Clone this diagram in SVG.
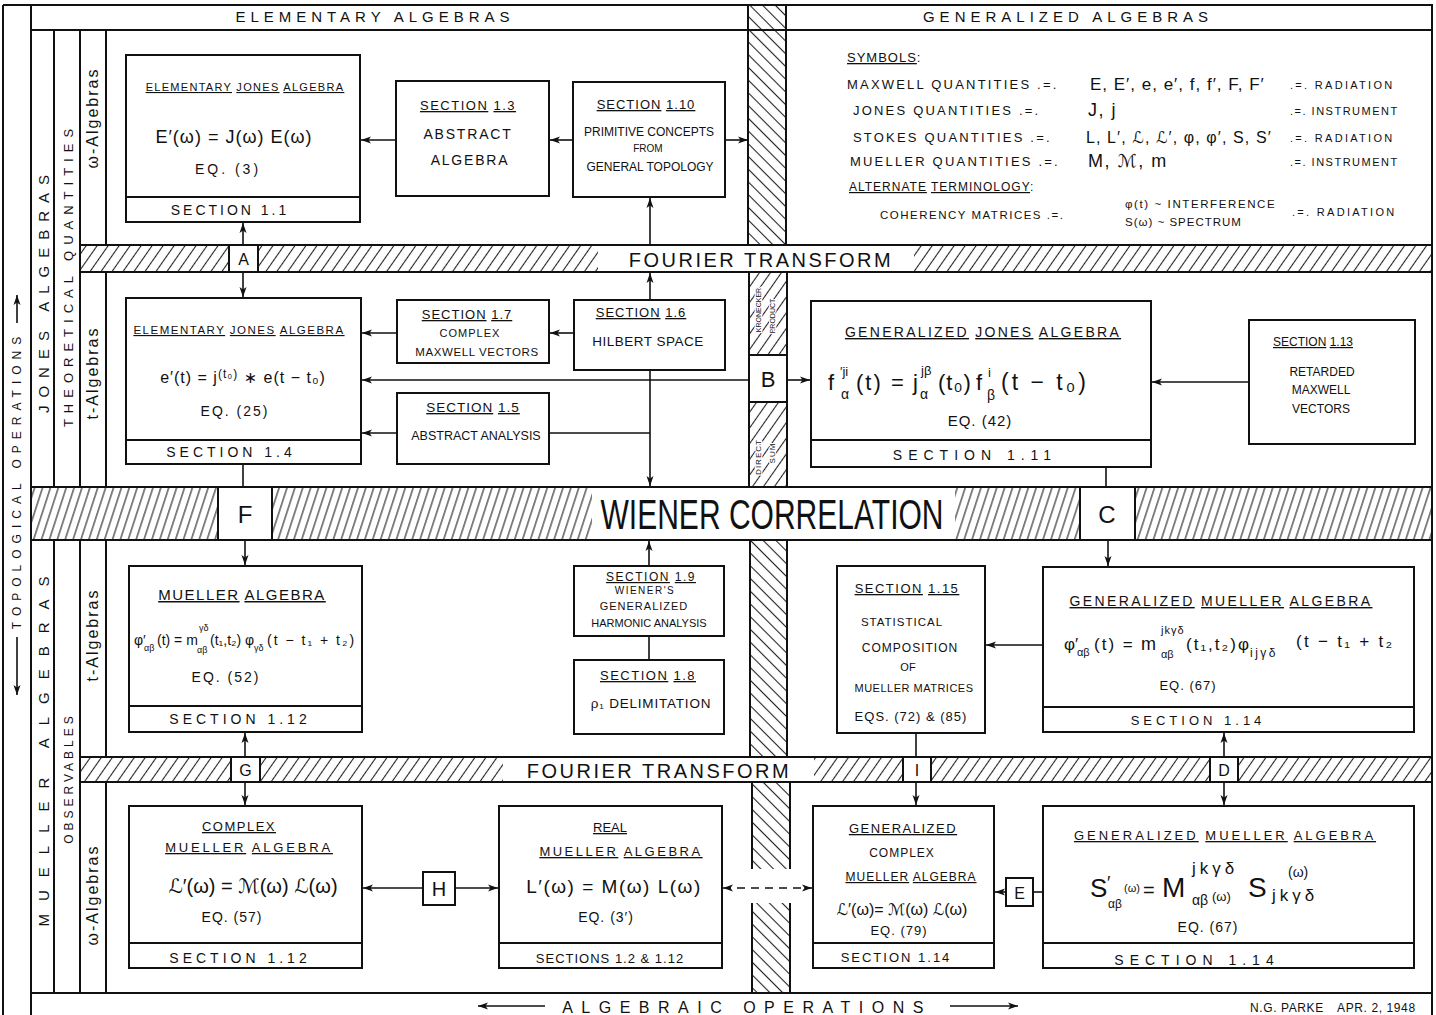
<svg xmlns="http://www.w3.org/2000/svg" width="1436" height="1015" viewBox="0 0 1436 1015">
<defs>
<style>
.bx{fill:#fff;stroke:#111;stroke-width:2}
.fr{fill:none;stroke:#111;stroke-width:2}
.ln{fill:none;stroke:#111;stroke-width:1.6}
.t{font-family:"Liberation Sans","DejaVu Sans",sans-serif;fill:#111;text-anchor:middle}
.s{text-anchor:start}
.u{text-decoration:underline}
.h{stroke:#fff;stroke-width:2.5;paint-order:stroke}
</style>
<pattern id="hF" patternUnits="userSpaceOnUse" width="9" height="10" patternTransform="rotate(35)"><line x1="4.5" y1="-1" x2="4.5" y2="11" stroke="#222" stroke-width="1.1"/></pattern>
<pattern id="hW" patternUnits="userSpaceOnUse" width="7.5" height="10" patternTransform="rotate(18)"><line x1="3.7" y1="-1" x2="3.7" y2="11" stroke="#222" stroke-width="1.1"/></pattern>
<pattern id="hV" patternUnits="userSpaceOnUse" width="9" height="10" patternTransform="rotate(-45)"><line x1="4.5" y1="-1" x2="4.5" y2="11" stroke="#222" stroke-width="1.1"/></pattern>
<marker id="ah" viewBox="0 0 10 8" refX="10" refY="4" markerWidth="10" markerHeight="8" markerUnits="userSpaceOnUse" orient="auto-start-reverse"><path d="M0,0.5 L10,4 L0,7.5 L2.5,4 z" fill="#111"/></marker>
</defs>
<rect width="1436" height="1015" fill="#fff"/>

<g id="bands">
<rect x="748" y="5" width="38" height="240" fill="url(#hV)"/>
<rect x="749" y="272" width="38" height="215" fill="url(#hF)"/>
<rect x="750" y="540" width="37" height="217" fill="url(#hV)"/>
<rect x="752" y="782" width="38" height="87" fill="url(#hV)"/>
<rect x="752" y="903" width="38" height="90" fill="url(#hV)"/>
<rect x="80" y="245" width="1352" height="27" fill="url(#hF)"/>
<rect x="598" y="246" width="316" height="25" fill="#fff"/>
<rect x="32" y="487" width="1400" height="53" fill="url(#hW)"/>
<rect x="592" y="488" width="363" height="51" fill="#fff"/>
<rect x="80" y="757" width="1352" height="25" fill="url(#hF)"/>
<rect x="503" y="758" width="311" height="23" fill="#fff"/>
</g>

<g id="frame" class="fr">
<path d="M3,5 H1432 V1015 M3,5 V1015 M31,5 V1015 M31,30 H1432 M80,245 H1432 M80,272 H1432 M32,487 H1432 M32,540 H1432 M80,757 H1432 M80,782 H1432 M31,993 H1432"/>
<path d="M54,30 V487 M54,540 V993 M80,30 V487 M80,540 V993 M106,30 V245 M106,272 V487 M106,540 V757 M106,782 V993"/>
<path d="M748,5 V245 M786,5 V245 M749,272 V487 M787,272 V487 M750,540 V757 M787,540 V757 M752,782 V869 M790,782 V869 M752,903 V993 M790,903 V993"/>
</g>

<g id="labels">
<text class="t" x="375" y="22" font-size="15" letter-spacing="5">ELEMENTARY ALGEBRAS</text>
<text class="t" x="1068" y="22" font-size="15" letter-spacing="5">GENERALIZED ALGEBRAS</text>
<text class="t" x="761" y="267" font-size="20" letter-spacing="2.5">FOURIER TRANSFORM</text>
<text class="t" x="659" y="778" font-size="20" letter-spacing="2.5">FOURIER TRANSFORM</text>
<text class="t" x="772" y="529" font-size="42" textLength="343" lengthAdjust="spacingAndGlyphs">WIENER CORRELATION</text>
<text class="t" transform="translate(21,480) rotate(-90)" font-size="12" letter-spacing="6">TOPOLOGICAL OPERATIONS</text>
<text class="t" transform="translate(48.5,290) rotate(-90)" font-size="15" letter-spacing="8">JONES ALGEBRAS</text>
<text class="t" transform="translate(72.5,275) rotate(-90)" font-size="13" letter-spacing="6">THEORETICAL QUANTITIES</text>
<text class="t" transform="translate(98,118) rotate(-90)" font-size="16" letter-spacing="2">ω-Algebras</text>
<text class="t" transform="translate(98,373) rotate(-90)" font-size="16" letter-spacing="2">t-Algebras</text>
<text class="t" transform="translate(48.5,745) rotate(-90)" font-size="15" letter-spacing="13">MUELLER ALGEBRAS</text>
<text class="t" transform="translate(72.5,778) rotate(-90)" font-size="12" letter-spacing="4">OBSERVABLES</text>
<text class="t" transform="translate(98,635) rotate(-90)" font-size="16" letter-spacing="2">t-Algebras</text>
<text class="t" transform="translate(98,895) rotate(-90)" font-size="16" letter-spacing="2">ω-Algebras</text>
<text class="t" transform="translate(760.5,310) rotate(-90)" font-size="7"><tspan class="h">KRONECKER</tspan></text>
<text class="t" transform="translate(774.5,316) rotate(-90)" font-size="7"><tspan class="h">PRODUCT</tspan></text>
<text class="t" transform="translate(761,457) rotate(-90)" font-size="8" letter-spacing="1"><tspan class="h">DIRECT</tspan></text>
<text class="t" transform="translate(775,453) rotate(-90)" font-size="8" letter-spacing="1"><tspan class="h">SUM</tspan></text>
<text class="t" x="747" y="1013" font-size="16" letter-spacing="8.5">ALGEBRAIC OPERATIONS</text>
<text class="t s" x="1250" y="1012" font-size="12" letter-spacing="0.6">N.G. PARKE <tspan dx="10">APR. 2, 1948</tspan></text>
</g>

<g id="symbols">
<text x="847" y="62" font-size="13" letter-spacing="1" class="t s"><tspan class="u">SYMBOLS</tspan>:</text>
<text x="847" y="89" font-size="13" letter-spacing="2.2" class="t s">MAXWELL QUANTITIES .=.</text>
<text x="1090" y="90" font-size="17" letter-spacing="1" class="t s">E, E′, e, e′, f, f′, F, F′</text>
<text x="1290" y="89" font-size="11" letter-spacing="2.3" class="t s">.=. RADIATION</text>
<text x="853" y="115" font-size="13" letter-spacing="2.2" class="t s">JONES QUANTITIES .=.</text>
<text x="1088" y="116" font-size="18" letter-spacing="1.5" class="t s">J, j</text>
<text x="1290" y="115" font-size="11" letter-spacing="1.5" class="t s">.=. INSTRUMENT</text>
<text x="853" y="142" font-size="13" letter-spacing="2.2" class="t s">STOKES QUANTITIES .=.</text>
<text x="1086" y="143" font-size="16" letter-spacing="1.1" class="t s">L, L′, ℒ, ℒ′, φ, φ′, S, S′</text>
<text x="1290" y="142" font-size="11" letter-spacing="2.3" class="t s">.=. RADIATION</text>
<text x="850" y="166" font-size="13" letter-spacing="2.2" class="t s">MUELLER QUANTITIES .=.</text>
<text x="1088" y="167" font-size="18" letter-spacing="1.5" class="t s">M, ℳ, m</text>
<text x="1290" y="166" font-size="11" letter-spacing="1.5" class="t s">.=. INSTRUMENT</text>
<text x="849" y="191" font-size="12" letter-spacing="1" class="t s"><tspan class="u">ALTERNATE</tspan> <tspan class="u">TERMINOLOGY</tspan>:</text>
<text x="880" y="219" font-size="11.5" letter-spacing="1.5" class="t s">COHERENCY MATRICES .=.</text>
<text x="1125" y="208" font-size="11.5" letter-spacing="1.6" class="t s">φ(t) ~ INTERFERENCE</text>
<text x="1125" y="226" font-size="11.5" letter-spacing="1" class="t s">S(ω) ~ SPECTRUM</text>
<text x="1292" y="216" font-size="11" letter-spacing="2.3" class="t s">.=. RADIATION</text>
</g>

<g id="connectors" class="ln">
<line x1="17" y1="323" x2="17" y2="295" marker-end="url(#ah)"/>
<line x1="17" y1="637" x2="17" y2="695" marker-end="url(#ah)"/>
<line x1="545" y1="1006" x2="478" y2="1006" marker-end="url(#ah)"/>
<line x1="950" y1="1006" x2="1018" y2="1006" marker-end="url(#ah)"/>
<line x1="396" y1="140" x2="361" y2="140" marker-end="url(#ah)"/>
<line x1="573" y1="140" x2="550" y2="140" marker-end="url(#ah)"/>
<line x1="725" y1="140" x2="748" y2="140" marker-end="url(#ah)"/>
<line x1="650" y1="245" x2="650" y2="198" marker-end="url(#ah)"/>
<line x1="243" y1="245" x2="243" y2="223" marker-end="url(#ah)"/>
<line x1="243" y1="272" x2="243" y2="297" marker-end="url(#ah)"/>
<line x1="397" y1="333" x2="362" y2="333" marker-end="url(#ah)"/>
<line x1="574" y1="333" x2="550" y2="333" marker-end="url(#ah)"/>
<line x1="749" y1="380" x2="362" y2="380" marker-end="url(#ah)"/>
<line x1="397" y1="433" x2="362" y2="433" marker-end="url(#ah)"/>
<line x1="549" y1="433" x2="650" y2="433"/>
<line x1="650" y1="300" x2="650" y2="273" marker-end="url(#ah)"/>
<line x1="650" y1="370" x2="650" y2="486" marker-end="url(#ah)"/>
<line x1="243" y1="464" x2="243" y2="487"/>
<line x1="245" y1="540" x2="245" y2="565" marker-end="url(#ah)"/>
<line x1="787" y1="380" x2="810" y2="380" marker-end="url(#ah)"/>
<line x1="1249" y1="382" x2="1152" y2="382" marker-end="url(#ah)"/>
<line x1="1106" y1="467" x2="1106" y2="487"/>
<line x1="1108" y1="540" x2="1108" y2="566" marker-end="url(#ah)"/>
<line x1="649" y1="566" x2="649" y2="541" marker-end="url(#ah)"/>
<line x1="649" y1="636" x2="649" y2="660"/>
<line x1="1043" y1="645" x2="986" y2="645" marker-end="url(#ah)"/>
<line x1="916" y1="733" x2="916" y2="757"/>
<line x1="916" y1="782" x2="916" y2="805" marker-end="url(#ah)"/>
<line x1="1224" y1="757" x2="1224" y2="733" marker-end="url(#ah)"/>
<line x1="1224" y1="782" x2="1224" y2="805" marker-end="url(#ah)"/>
<line x1="245" y1="757" x2="245" y2="733" marker-end="url(#ah)"/>
<line x1="245" y1="782" x2="245" y2="805" marker-end="url(#ah)"/>
<line x1="423" y1="888" x2="363" y2="888" marker-end="url(#ah)"/>
<line x1="455" y1="888" x2="498" y2="888" marker-end="url(#ah)"/>
<line x1="723" y1="888" x2="812" y2="888" stroke-dasharray="8,6" marker-start="url(#ah)" marker-end="url(#ah)"/>
<line x1="1006" y1="892" x2="995" y2="892" marker-end="url(#ah)"/>
<line x1="1043" y1="892" x2="1033" y2="892"/>
</g>

<g id="nA"><rect class="bx" x="229" y="245" width="29" height="27"/><text class="t" x="243.5" y="265" font-size="16">A</text></g>
<g id="nB"><rect class="bx" x="749" y="355" width="38" height="47"/><text class="t" x="768" y="387" font-size="22">B</text></g>
<g id="nC"><rect class="bx" x="1080" y="487" width="55" height="53"/><text class="t" x="1107" y="523" font-size="24">C</text></g>
<g id="nF"><rect class="bx" x="218" y="487" width="54" height="53"/><text class="t" x="245" y="523" font-size="24">F</text></g>
<g id="nG"><rect class="bx" x="231" y="757" width="29" height="25"/><text class="t" x="245.5" y="776" font-size="16">G</text></g>
<g id="nI"><rect class="bx" x="903" y="757" width="28" height="25"/><text class="t" x="917" y="776" font-size="16">I</text></g>
<g id="nD"><rect class="bx" x="1210" y="757" width="28" height="25"/><text class="t" x="1224" y="776" font-size="16">D</text></g>
<g id="nH"><rect class="bx" x="423" y="872" width="32" height="33"/><text class="t" x="439" y="896" font-size="20">H</text></g>
<g id="nE"><rect class="bx" x="1006" y="878" width="27" height="28"/><text class="t" x="1019.5" y="899" font-size="16">E</text></g>

<g id="n1">
<rect class="bx" x="126" y="55" width="234" height="167"/><line class="fr" x1="126" y1="197" x2="360" y2="197"/>
<text class="t" x="245" y="91" font-size="11" letter-spacing="1.3"><tspan class="u">ELEMENTARY</tspan> <tspan class="u">JONES</tspan> <tspan class="u">ALGEBRA</tspan></text>
<text class="t" x="234" y="143" font-size="18" letter-spacing="1">E′(ω) = J(ω) E(ω)</text>
<text class="t" x="228" y="174" font-size="14" letter-spacing="3">EQ. (3)</text>
<text class="t" x="230" y="215" font-size="14" letter-spacing="3">SECTION 1.1</text>
</g>
<g id="n2">
<rect class="bx" x="396" y="81" width="153" height="115"/>
<text class="t" x="468" y="110" font-size="13" letter-spacing="1.5"><tspan class="u">SECTION</tspan> <tspan class="u">1.3</tspan></text>
<text class="t" x="468" y="139" font-size="14" letter-spacing="1.8">ABSTRACT</text>
<text class="t" x="470" y="165" font-size="14" letter-spacing="1.8">ALGEBRA</text>
</g>
<g id="n3">
<rect class="bx" x="573" y="82" width="152" height="115"/>
<text class="t" x="646" y="109" font-size="13" letter-spacing="1"><tspan class="u">SECTION</tspan> <tspan class="u">1.10</tspan></text>
<text class="t" x="649" y="136" font-size="12">PRIMITIVE CONCEPTS</text>
<text class="t" x="648" y="152" font-size="10">FROM</text>
<text class="t" x="650" y="171" font-size="12">GENERAL TOPOLOGY</text>
</g>
<g id="n4">
<rect class="bx" x="126" y="298" width="235" height="166"/><line class="fr" x1="126" y1="440" x2="361" y2="440"/>
<text class="t" x="239" y="334" font-size="11.5" letter-spacing="1.5"><tspan class="u">ELEMENTARY</tspan> <tspan class="u">JONES</tspan> <tspan class="u">ALGEBRA</tspan></text>
<text class="t" x="243" y="383" font-size="16" letter-spacing="1">e′(t) = j<tspan dy="-5" font-size="12">(t₀)</tspan><tspan dy="5"> ∗ e(t − t₀)</tspan></text>
<text class="t" x="235" y="416" font-size="14" letter-spacing="2">EQ. (25)</text>
<text class="t" x="231" y="457" font-size="14" letter-spacing="4">SECTION 1.4</text>
</g>
<g id="n5">
<rect class="bx" x="397" y="300" width="152" height="63"/>
<text class="t" x="467" y="319" font-size="13" letter-spacing="1"><tspan class="u">SECTION</tspan> <tspan class="u">1.7</tspan></text>
<text class="t" x="470" y="337" font-size="11" letter-spacing="1">COMPLEX</text>
<text class="t" x="477" y="356" font-size="11.5" letter-spacing="0.6">MAXWELL VECTORS</text>
</g>
<g id="n6">
<rect class="bx" x="574" y="300" width="151" height="70"/>
<text class="t" x="641" y="317" font-size="13" letter-spacing="1"><tspan class="u">SECTION</tspan> <tspan class="u">1.6</tspan></text>
<text class="t" x="648" y="346" font-size="13.5" letter-spacing="0.5">HILBERT SPACE</text>
</g>
<g id="n7">
<rect class="bx" x="397" y="393" width="152" height="71"/>
<text class="t" x="473" y="412" font-size="13.5" letter-spacing="1"><tspan class="u">SECTION</tspan> <tspan class="u">1.5</tspan></text>
<text class="t" x="476" y="440" font-size="12.5">ABSTRACT ANALYSIS</text>
</g>
<g id="n8">
<rect class="bx" x="811" y="301" width="340" height="166"/><line class="fr" x1="811" y1="440" x2="1151" y2="440"/>
<text class="t" x="983" y="337" font-size="14" letter-spacing="2.3"><tspan class="u">GENERALIZED</tspan> <tspan class="u">JONES</tspan> <tspan class="u">ALGEBRA</tspan></text>
<text class="t s" font-size="22"><tspan x="828" y="390">f</tspan><tspan x="840" y="376" font-size="13">′ji</tspan><tspan x="841" y="399" font-size="14">α</tspan><tspan x="856" y="390" letter-spacing="2">(t) =</tspan><tspan x="913" y="390">j</tspan><tspan x="921" y="375" font-size="13">jβ</tspan><tspan x="920" y="399" font-size="14">α</tspan><tspan x="938" y="390" letter-spacing="1">(t₀)</tspan><tspan x="976" y="390">f</tspan><tspan x="988" y="377" font-size="13">i</tspan><tspan x="987" y="400" font-size="14">β</tspan><tspan x="1001" y="390" font-size="23" letter-spacing="3">(t − t₀)</tspan></text>
<text class="t" x="980" y="426" font-size="15" letter-spacing="1">EQ. (42)</text>
<text class="t" x="975" y="460" font-size="14" letter-spacing="6">SECTION 1.11</text>
</g>
<g id="n9">
<rect class="bx" x="1249" y="320" width="166" height="124"/>
<text class="t" x="1313" y="346" font-size="12"><tspan class="u">SECTION</tspan> <tspan class="u">1.13</tspan></text>
<text class="t" x="1322" y="376" font-size="12">RETARDED</text>
<text class="t" x="1321" y="394" font-size="12">MAXWELL</text>
<text class="t" x="1321" y="413" font-size="12">VECTORS</text>
</g>
<g id="n10">
<rect class="bx" x="129" y="566" width="233" height="166"/><line class="fr" x1="129" y1="706" x2="362" y2="706"/>
<text class="t" x="242" y="600" font-size="15" letter-spacing="1.5"><tspan class="u">MUELLER</tspan> <tspan class="u">ALGEBRA</tspan></text>
<text class="t s" font-size="14"><tspan x="134" y="645">φ′</tspan><tspan x="144" y="651" font-size="9">αβ</tspan><tspan x="157" y="645">(t) = m</tspan><tspan x="199" y="631" font-size="9">γδ</tspan><tspan x="197" y="653" font-size="9">αβ</tspan><tspan x="210" y="645">(t₁,t₂)</tspan><tspan x="245" y="645">φ</tspan><tspan x="254" y="651" font-size="9">γδ</tspan><tspan x="267" y="645" letter-spacing="2">(t − t₁ + t₂)</tspan></text>
<text class="t" x="226" y="682" font-size="14" letter-spacing="2">EQ. (52)</text>
<text class="t" x="240" y="724" font-size="14" letter-spacing="4">SECTION 1.12</text>
</g>
<g id="n11">
<rect class="bx" x="574" y="566" width="150" height="70"/>
<text class="t" x="651" y="581" font-size="12" letter-spacing="1.5"><tspan class="u">SECTION</tspan> <tspan class="u">1.9</tspan></text>
<text class="t" x="645" y="594" font-size="10" letter-spacing="1.5">WIENER'S</text>
<text class="t" x="644" y="610" font-size="11" letter-spacing="1">GENERALIZED</text>
<text class="t" x="649" y="627" font-size="11">HARMONIC ANALYSIS</text>
</g>
<g id="n12">
<rect class="bx" x="574" y="660" width="150" height="74"/>
<text class="t" x="648" y="680" font-size="13" letter-spacing="1.5"><tspan class="u">SECTION</tspan> <tspan class="u">1.8</tspan></text>
<text class="t" x="651" y="708" font-size="13.5" letter-spacing="0.8">ρ₁ DELIMITATION</text>
</g>
<g id="n13">
<rect class="bx" x="837" y="566" width="148" height="167"/>
<text class="t" x="907" y="593" font-size="13" letter-spacing="1.5"><tspan class="u">SECTION</tspan> <tspan class="u">1.15</tspan></text>
<text class="t" x="902" y="626" font-size="11.5" letter-spacing="1">STATISTICAL</text>
<text class="t" x="910" y="652" font-size="12" letter-spacing="1">COMPOSITION</text>
<text class="t" x="908" y="671" font-size="11">OF</text>
<text class="t" x="914" y="692" font-size="11" letter-spacing="0.5">MUELLER MATRICES</text>
<text class="t" x="911" y="721" font-size="13" letter-spacing="1">EQS. (72) &amp; (85)</text>
</g>
<g id="n14">
<rect class="bx" x="1043" y="567" width="371" height="165"/><line class="fr" x1="1043" y1="707" x2="1414" y2="707"/>
<text class="t" x="1221" y="606" font-size="14" letter-spacing="2.4"><tspan class="u">GENERALIZED</tspan> <tspan class="u">MUELLER</tspan> <tspan class="u">ALGEBRA</tspan></text>
<text class="t s" font-size="17"><tspan x="1064" y="650">φ′</tspan><tspan x="1077" y="656" font-size="11">αβ</tspan><tspan x="1094" y="650" letter-spacing="2">(t) =</tspan><tspan x="1141" y="650" font-size="18">m</tspan><tspan x="1161" y="634" font-size="11" letter-spacing="1">jkγδ</tspan><tspan x="1161" y="658" font-size="11">αβ</tspan><tspan x="1186" y="650" letter-spacing="2">(t₁,t₂)</tspan><tspan x="1238" y="650">φ</tspan><tspan x="1250" y="657" font-size="12" letter-spacing="2.5">ijγδ</tspan><tspan x="1296" y="647" letter-spacing="2.3">(t − t₁ + t₂</tspan></text>
<text class="t" x="1188" y="690" font-size="13" letter-spacing="1">EQ. (67)</text>
<text class="t" x="1198" y="725" font-size="13" letter-spacing="4">SECTION 1.14</text>
</g>
<g id="n15">
<rect class="bx" x="129" y="806" width="233" height="162"/><line class="fr" x1="129" y1="943" x2="362" y2="943"/>
<text class="t" x="239" y="831" font-size="13" letter-spacing="1.5"><tspan class="u">COMPLEX</tspan></text>
<text class="t" x="249" y="852" font-size="13" letter-spacing="2.8"><tspan class="u">MUELLER</tspan> <tspan class="u">ALGEBRA</tspan></text>
<text class="t" x="253" y="893" font-size="20">ℒ′(ω) = ℳ(ω) ℒ(ω)</text>
<text class="t" x="232" y="922" font-size="14" letter-spacing="1">EQ. (57)</text>
<text class="t" x="240" y="963" font-size="14" letter-spacing="4">SECTION 1.12</text>
</g>
<g id="n16">
<rect class="bx" x="499" y="806" width="223" height="162"/><line class="fr" x1="499" y1="943" x2="722" y2="943"/>
<text class="t" x="610" y="832" font-size="13"><tspan class="u">REAL</tspan></text>
<text class="t" x="621" y="856" font-size="13" letter-spacing="2.5"><tspan class="u">MUELLER</tspan> <tspan class="u">ALGEBRA</tspan></text>
<text class="t" x="614" y="893" font-size="19" letter-spacing="1.5">L′(ω) = M(ω) L(ω)</text>
<text class="t" x="606" y="922" font-size="14" letter-spacing="1">EQ. (3′)</text>
<text class="t" x="610" y="963" font-size="13" letter-spacing="1">SECTIONS 1.2 &amp; 1.12</text>
</g>
<g id="n17">
<rect class="bx" x="813" y="806" width="181" height="162"/><line class="fr" x1="813" y1="943" x2="994" y2="943"/>
<text class="t" x="903" y="833" font-size="13" letter-spacing="1.5"><tspan class="u">GENERALIZED</tspan></text>
<text class="t" x="902" y="857" font-size="12" letter-spacing="1">COMPLEX</text>
<text class="t" x="911" y="881" font-size="12" letter-spacing="1"><tspan class="u">MUELLER</tspan> <tspan class="u">ALGEBRA</tspan></text>
<text class="t" x="902" y="915" font-size="16">ℒ′(ω)= ℳ(ω) ℒ(ω)</text>
<text class="t" x="899" y="935" font-size="13" letter-spacing="1">EQ. (79)</text>
<text class="t" x="896" y="962" font-size="13" letter-spacing="2">SECTION 1.14</text>
</g>
<g id="n18">
<rect class="bx" x="1043" y="806" width="371" height="162"/><line class="fr" x1="1043" y1="943" x2="1414" y2="943"/>
<text class="t" x="1225" y="840" font-size="13" letter-spacing="3"><tspan class="u">GENERALIZED</tspan> <tspan class="u">MUELLER</tspan> <tspan class="u">ALGEBRA</tspan></text>
<text class="t s" font-size="26"><tspan x="1090" y="897">S</tspan><tspan x="1107" y="889" font-size="18">′</tspan><tspan x="1108" y="908" font-size="12">αβ</tspan><tspan x="1124" y="892" font-size="11">(ω)</tspan><tspan x="1143" y="897" font-size="20">=</tspan><tspan x="1162" y="897" font-size="28">M</tspan><tspan x="1192" y="874" font-size="17" letter-spacing="4">jkγδ</tspan><tspan x="1192" y="905" font-size="14">αβ</tspan><tspan x="1212" y="901" font-size="13">(ω)</tspan><tspan x="1248" y="897" font-size="28">S</tspan><tspan x="1288" y="877" font-size="14">(ω)</tspan><tspan x="1272" y="901" font-size="17" letter-spacing="4">jkγδ</tspan></text>
<text class="t" x="1208" y="932" font-size="14" letter-spacing="1">EQ. (67)</text>
<text class="t" x="1197" y="965" font-size="14" letter-spacing="6">SECTION 1.14</text>
</g>
</svg>
